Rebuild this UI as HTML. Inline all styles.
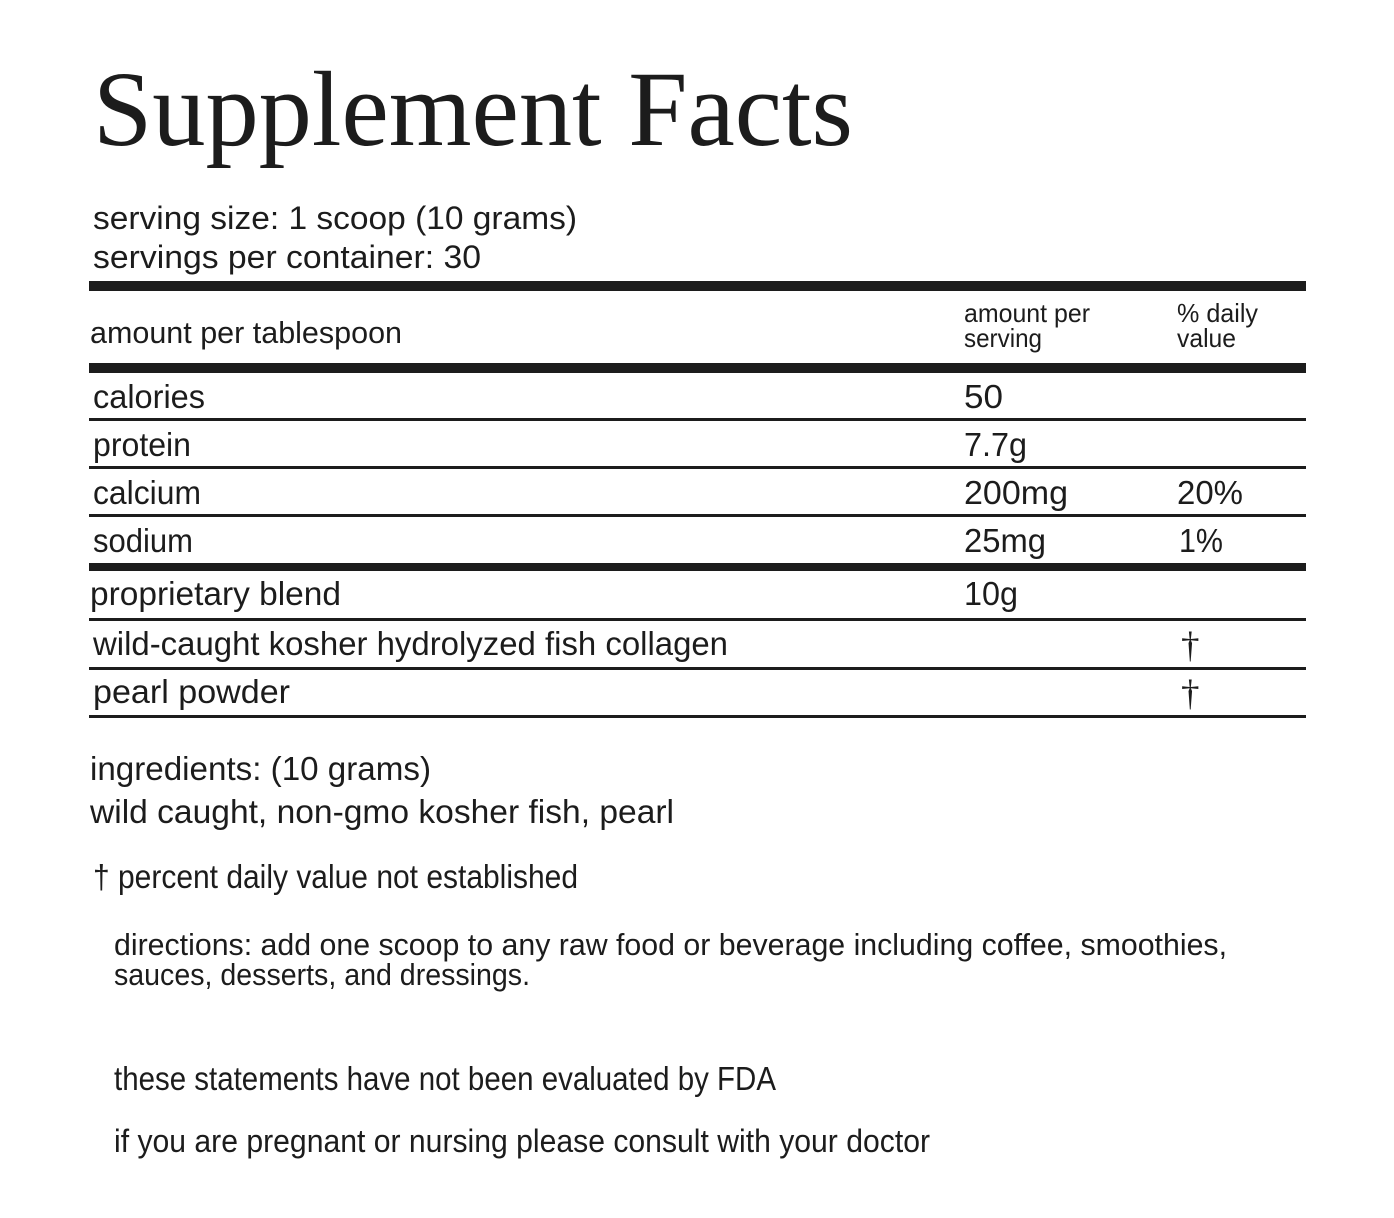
<!DOCTYPE html>
<html>
<head>
<meta charset="utf-8">
<style>
  html, body { margin: 0; padding: 0; background: #ffffff; }
  body { width: 1394px; height: 1218px; overflow: hidden; }
  svg { display: block; }
  .s { font-family: "Liberation Sans", "DejaVu Sans", sans-serif; fill: #1c1c1c; }
  .t { font-family: "Liberation Serif", "DejaVu Serif", serif; fill: #1c1c1c; }
</style>
</head>
<body>
<svg width="1394" height="1218" viewBox="0 0 1394 1218" xmlns="http://www.w3.org/2000/svg">
  <rect x="0" y="0" width="1394" height="1218" fill="#ffffff"/>

  <!-- Title -->
  <text class="t" x="93" y="145" font-size="107" textLength="760" lengthAdjust="spacingAndGlyphs">Supplement Facts</text>

  <!-- Serving info -->
  <text class="s" x="93" y="229" font-size="32" textLength="484" lengthAdjust="spacingAndGlyphs">serving size: 1 scoop (10 grams)</text>
  <text class="s" x="93" y="268" font-size="32" textLength="388" lengthAdjust="spacingAndGlyphs">servings per container: 30</text>

  <!-- Rules -->
  <g fill="#1c1c1c">
    <rect x="89" y="281" width="1217" height="10"/>
    <rect x="89" y="363" width="1217" height="10"/>
    <rect x="89" y="418" width="1217" height="3"/>
    <rect x="89" y="466" width="1217" height="3"/>
    <rect x="89" y="514" width="1217" height="3"/>
    <rect x="89" y="563" width="1217" height="8"/>
    <rect x="89" y="618" width="1217" height="3"/>
    <rect x="89" y="667" width="1217" height="3"/>
    <rect x="89" y="715" width="1217" height="3"/>
  </g>

  <!-- Header row -->
  <text class="s" x="90" y="343" font-size="31" textLength="312" lengthAdjust="spacingAndGlyphs">amount per tablespoon</text>
  <text class="s" x="964" y="322" font-size="26" textLength="126" lengthAdjust="spacingAndGlyphs">amount per</text>
  <text class="s" x="964" y="347" font-size="26" textLength="78" lengthAdjust="spacingAndGlyphs">serving</text>
  <text class="s" x="1177" y="322" font-size="26" textLength="81" lengthAdjust="spacingAndGlyphs">% daily</text>
  <text class="s" x="1177" y="347" font-size="26" textLength="59" lengthAdjust="spacingAndGlyphs">value</text>

  <!-- Rows -->
  <text class="s" x="93" y="408" font-size="33" textLength="112" lengthAdjust="spacingAndGlyphs">calories</text>
  <text class="s" x="964" y="408" font-size="33" textLength="39" lengthAdjust="spacingAndGlyphs">50</text>

  <text class="s" x="93" y="456" font-size="33" textLength="98" lengthAdjust="spacingAndGlyphs">protein</text>
  <text class="s" x="964" y="456" font-size="33" textLength="63" lengthAdjust="spacingAndGlyphs">7.7g</text>

  <text class="s" x="93" y="504" font-size="33" textLength="108" lengthAdjust="spacingAndGlyphs">calcium</text>
  <text class="s" x="964" y="504" font-size="33" textLength="104" lengthAdjust="spacingAndGlyphs">200mg</text>
  <text class="s" x="1177" y="504" font-size="33" textLength="66" lengthAdjust="spacingAndGlyphs">20%</text>

  <text class="s" x="93" y="552" font-size="33" textLength="100" lengthAdjust="spacingAndGlyphs">sodium</text>
  <text class="s" x="964" y="552" font-size="33" textLength="82" lengthAdjust="spacingAndGlyphs">25mg</text>
  <text class="s" x="1179" y="552" font-size="33" textLength="44" lengthAdjust="spacingAndGlyphs">1%</text>

  <text class="s" x="90" y="605" font-size="33" textLength="251" lengthAdjust="spacingAndGlyphs">proprietary blend</text>
  <text class="s" x="964" y="605" font-size="33" textLength="54" lengthAdjust="spacingAndGlyphs">10g</text>

  <text class="s" x="93" y="655" font-size="33" textLength="635" lengthAdjust="spacingAndGlyphs">wild-caught kosher hydrolyzed fish collagen</text>
  <text class="t" x="1181" y="657" font-size="37">†</text>

  <text class="s" x="93" y="703" font-size="33" textLength="197" lengthAdjust="spacingAndGlyphs">pearl powder</text>
  <text class="t" x="1181" y="705" font-size="37">†</text>

  <!-- Ingredients -->
  <text class="s" x="90" y="780" font-size="33" textLength="341" lengthAdjust="spacingAndGlyphs">ingredients: (10 grams)</text>
  <text class="s" x="90" y="823" font-size="33" textLength="584" lengthAdjust="spacingAndGlyphs">wild caught, non-gmo kosher fish, pearl</text>

  <text class="s" x="93" y="888" font-size="33" textLength="485" lengthAdjust="spacingAndGlyphs">† percent daily value not established</text>

  <text class="s" x="114" y="955" font-size="31" textLength="1113" lengthAdjust="spacingAndGlyphs">directions: add one scoop to any raw food or beverage including coffee, smoothies,</text>
  <text class="s" x="114" y="985" font-size="31" textLength="416" lengthAdjust="spacingAndGlyphs">sauces, desserts, and dressings.</text>

  <text class="s" x="114" y="1090" font-size="33" textLength="662" lengthAdjust="spacingAndGlyphs">these statements have not been evaluated by FDA</text>
  <text class="s" x="114" y="1152" font-size="32" textLength="816" lengthAdjust="spacingAndGlyphs">if you are pregnant or nursing please consult with your doctor</text>
</svg>
</body>
</html>
